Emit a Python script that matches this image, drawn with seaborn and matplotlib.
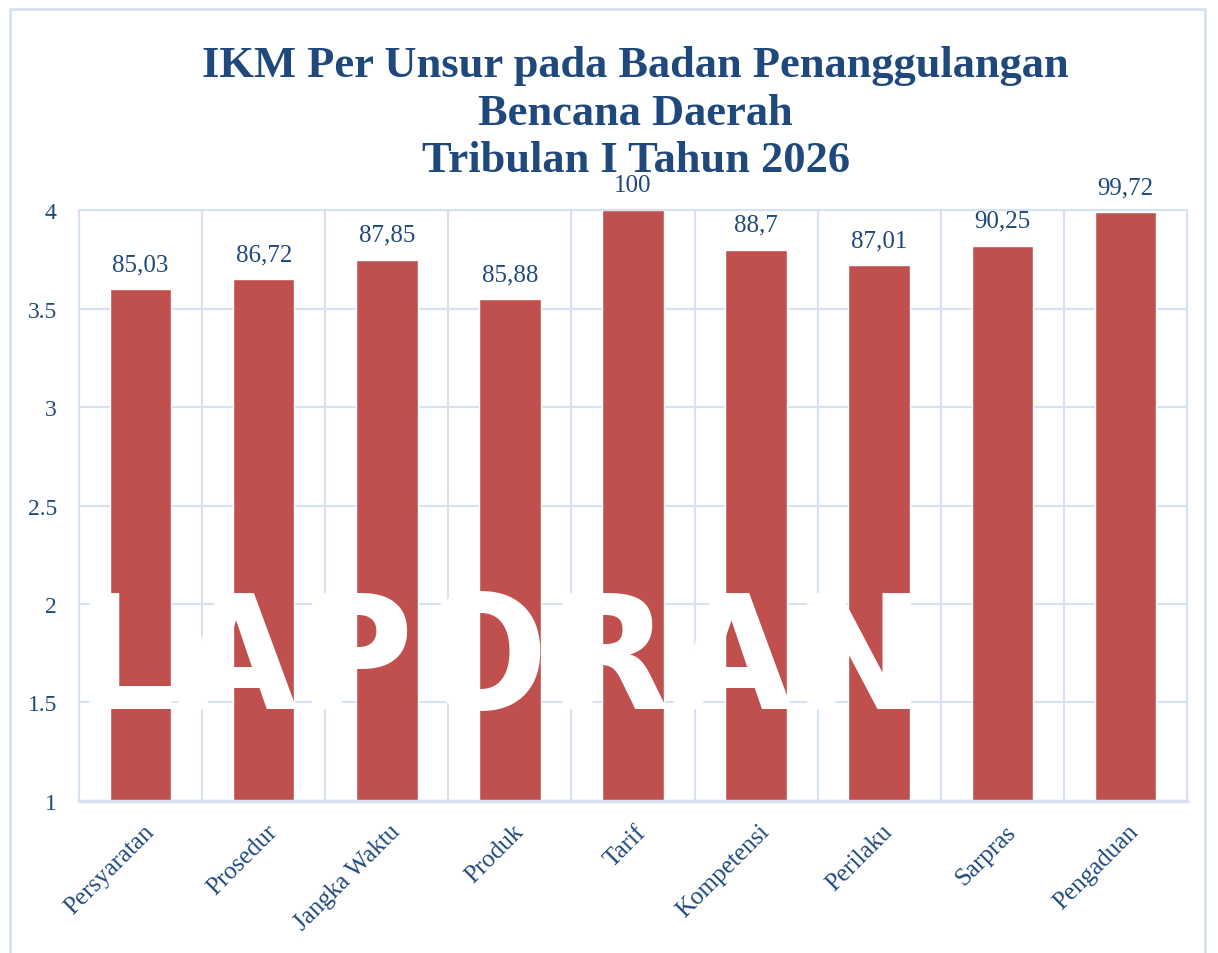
import matplotlib
matplotlib.use('Agg')
import matplotlib.pyplot as plt
import matplotlib.transforms as mtransforms
import seaborn as sns
import pandas as pd
import numpy as np
from matplotlib.patches import Rectangle

# data
unsur = ['Persyaratan', 'Prosedur', 'Jangka Waktu', 'Produk', 'Tarif',
         'Kompetensi', 'Perilaku', 'Sarpras', 'Pengaduan']
nilai = [3.60, 3.65, 3.75, 3.55, 4.00, 3.80, 3.72, 3.82, 3.99]
label_ikm = ['85,03', '86,72', '87,85', '85,88', '100', '88,7', '87,01', '90,25', '99,72']

df = pd.DataFrame({'unsur': unsur, 'nilai': nilai})

sns.set_style('white')
plt.rcParams['font.family'] = ['Liberation Serif', 'DejaVu Serif']

navy = '#1f497d'
grid_c = '#d6e1f1'
bar_c = '#c0504d'

fig = plt.figure(figsize=(12.18, 9.54), dpi=100)
ax = fig.add_axes([0.0649, 0.1595, 0.9096, 0.619])

sns.barplot(data=df, x='unsur', y='nilai', color=bar_c, saturation=1,
            width=0.5, ax=ax, zorder=2)

ax.set_ylim(1, 4)
ax.set_xlim(-0.5, len(unsur) - 0.5)
ax.set_yticks(np.arange(1, 4.01, 0.5))
ax.set_yticklabels(['1', '1.5', '2', '2.5', '3', '3.5', '4'])
ax.set_xticks(np.arange(-0.5, len(unsur), 1), minor=True)
ax.grid(True, which='major', axis='y', color=grid_c, lw=1.5, zorder=0)
ax.grid(True, which='minor', axis='x', color=grid_c, lw=1.5, zorder=0)
ax.tick_params(axis='both', which='both', length=0)
ax.tick_params(axis='y', pad=16, labelsize=17, labelcolor=navy)
ax.tick_params(axis='x', pad=14, labelsize=18, labelcolor=navy)
shift = mtransforms.ScaledTranslation(2 / 100, 0, fig.dpi_scale_trans)
for lab in ax.get_xticklabels():
    lab.set_rotation(45)
    lab.set_ha('right')
    lab.set_rotation_mode('anchor')
    lab.set_transform(lab.get_transform() + shift)
ax.set_xlabel('')
ax.set_ylabel('')
for s in ax.spines.values():
    s.set_color(grid_c)
    s.set_linewidth(1.5)
ax.spines['bottom'].set_linewidth(2.5)

# data labels
for i, (v, t) in enumerate(zip(nilai, label_ikm)):
    ax.annotate(t, (i, v), xytext=(0, 10), textcoords='offset points',
                ha='center', va='bottom', fontsize=18, color=navy)

fig.text(0.522, 0.952, 'IKM Per Unsur pada Badan Penanggulangan\nBencana Daerah\nTribulan I Tahun 2026',
         ha='center', va='top', fontsize=32, fontweight='bold', color=navy,
         linespacing=1.25)

# watermark
fig.text(0.411, 0.303, 'LAPORAN', ha='center', va='center', fontsize=114,
         fontweight='bold', color='white', family='DejaVu Sans', zorder=5)

# outer chart border
fig.patches.append(Rectangle((0.008, -0.01), 0.981, 1.0, transform=fig.transFigure,
                             fill=False, edgecolor=grid_c, lw=2))

fig.savefig('out.png', dpi=100)
